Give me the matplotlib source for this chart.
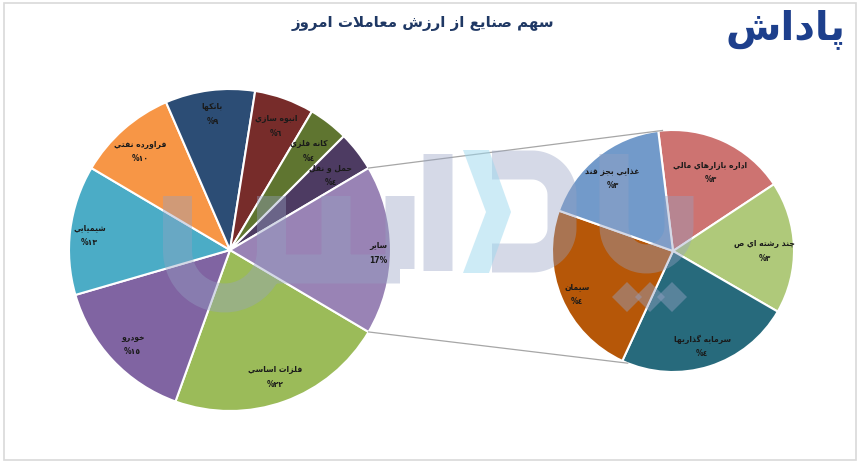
import numpy as np
import matplotlib
matplotlib.use('Agg')
import matplotlib.pyplot as plt
from matplotlib.patches import Rectangle, Polygon, PathPatch
from matplotlib.path import Path

plt.rcParams['font.family'] = ['DejaVu Sans']

# main pie (clockwise, starting at lower edge of "سایر")
main_names = ['فلزات اساسي', 'خودرو', 'شيميايي', 'فراورده نفتي', 'بانکها',
              'انبوه سازي', 'کانه فلزي', 'حمل و نقل', 'ساير']
main_values = [22, 15, 13, 10, 9, 6, 4, 4, 17]
main_colors = ['#9BBB59', '#8064A2', '#4BACC6', '#F79646', '#2C4D75',
               '#772C2A', '#5F7530', '#4D3B62', '#9983B5']

# breakdown of "سایر"
sub_names = ['اداره بازارهاي مالي', 'چند رشته اي ص', 'سرمايه گذاريها', 'سيمان', 'غذايي بجز قند']
sub_values = [3, 3, 4, 4, 3]
sub_colors = ['#CD7371', '#AFC97A', '#276A7C', '#B65708', '#729ACA']

title = 'سهم صنايع از ارزش معاملات امروز'
logo = 'پاداش'

# ---- minimal arabic shaping (matplotlib has no bidi / joining) ----
TWO = {'ا': 0xFE8D, 'آ': 0xFE81, 'أ': 0xFE83, 'إ': 0xFE87, 'ؤ': 0xFE85, 'د': 0xFEA9,
       'ذ': 0xFEAB, 'ر': 0xFEAD, 'ز': 0xFEAF, 'و': 0xFEED, 'ة': 0xFE93, 'ژ': 0xFB8A,
       'ى': 0xFEEF}
FOUR = {'ئ': 0xFE89, 'ب': 0xFE8F, 'ت': 0xFE95, 'ث': 0xFE99, 'ج': 0xFE9D, 'ح': 0xFEA1,
        'خ': 0xFEA5, 'س': 0xFEB1, 'ش': 0xFEB5, 'ص': 0xFEB9, 'ض': 0xFEBD, 'ط': 0xFEC1,
        'ظ': 0xFEC5, 'ع': 0xFEC9, 'غ': 0xFECD, 'ف': 0xFED1, 'ق': 0xFED5, 'ك': 0xFED9,
        'ل': 0xFEDD, 'م': 0xFEE1, 'ن': 0xFEE5, 'ه': 0xFEE9, 'ي': 0xFEF1, 'پ': 0xFB56,
        'چ': 0xFB7A, 'ک': 0xFB8E, 'گ': 0xFB92, 'ی': 0xFBFC}
LAMALEF = {'ا': 0xFEFB, 'آ': 0xFEF5, 'أ': 0xFEF7, 'إ': 0xFEF9}


def shape(s):
    chars = []
    i = 0
    while i < len(s):
        if s[i] == 'ل' and i + 1 < len(s) and s[i + 1] in LAMALEF:
            chars.append(('LA', s[i + 1]))
            i += 2
        else:
            chars.append((s[i], None))
            i += 1

    def joins(c):
        return c[0] in TWO or c[0] in FOUR or c[0] == 'LA'

    def dual(c):
        return c[0] in FOUR

    out = []
    for k, c in enumerate(chars):
        prev = chars[k - 1] if k > 0 else None
        nxt = chars[k + 1] if k + 1 < len(chars) else None
        jp = prev is not None and dual(prev) and joins(c)
        jn = nxt is not None and dual(c) and joins(nxt)
        if c[0] == 'LA':
            out.append(chr(LAMALEF[c[1]] + (1 if jp else 0)))
        elif c[0] in FOUR:
            base = FOUR[c[0]]
            off = 3 if (jp and jn) else 1 if jp else 2 if jn else 0
            out.append(chr(base + off))
        elif c[0] in TWO:
            out.append(chr(TWO[c[0]] + (1 if jp else 0)))
        else:
            out.append(c[0])
    return ''.join(out[::-1])


def fa_pct(v):
    return '%' + ''.join(chr(0x0660 + int(d)) for d in str(v))


H = 465
fig = plt.figure(figsize=(8.61, 4.65), dpi=100)
ax = fig.add_axes([0, 0, 1, 1])

ax.add_patch(Rectangle((4, 5), 852, 457, fill=False, edgecolor='#D9D9D9', lw=1.2))

c1, r1 = (230, 215), 161
c2, r2 = (673, 214), 121
start1 = -main_values[-1] / sum(main_values) * 360 / 2
start2 = 97

w1, _ = ax.pie(main_values, colors=main_colors, startangle=start1, counterclock=False,
               center=c1, radius=r1, frame=True,
               wedgeprops=dict(edgecolor='white', linewidth=1.5))
w2, _ = ax.pie(sub_values, colors=sub_colors, startangle=start2, counterclock=False,
               center=c2, radius=r2, frame=True,
               wedgeprops=dict(edgecolor='white', linewidth=1.5))
ax.set_xlim(0, 861)
ax.set_ylim(0, H)
ax.axis('off')
ax.set_aspect('equal')

lab_kw = dict(ha='center', va='center', fontsize=5.5, fontweight='bold',
              color='#1A1A1A', linespacing=1.8, zorder=6)
dist1 = [0.82, 0.83, 0.88, 0.84, 0.87, 0.84, 0.80, 0.79, 0.92]
for w, name, v, d in zip(w1, main_names, main_values, dist1):
    a = np.deg2rad((w.theta1 + w.theta2) / 2)
    pct = '17%' if name == main_names[-1] else fa_pct(v)
    ax.text(c1[0] + d * r1 * np.cos(a), c1[1] + d * r1 * np.sin(a) - 3,
            shape(name) + '\n' + pct, **lab_kw)

dist2 = [0.74, 0.76, 0.80, 0.86, 0.80]
for w, name, v, d in zip(w2, sub_names, sub_values, dist2):
    a = np.deg2rad((w.theta1 + w.theta2) / 2)
    ax.text(c2[0] + d * r2 * np.cos(a), c2[1] + d * r2 * np.sin(a) - 3,
            shape(name) + '\n' + fa_pct(v), **lab_kw)

# connector lines between "سایر" edges and the second pie
ta = np.deg2rad(w1[-1].theta2)
ba = np.deg2rad(w1[-1].theta1)
ax.plot([c1[0] + r1 * np.cos(ta), c2[0] + r2 * np.cos(np.deg2rad(95))],
        [c1[1] + r1 * np.sin(ta), c2[1] + r2 * np.sin(np.deg2rad(95))],
        color='#A6A6A6', lw=0.9, zorder=1)
ax.plot([c1[0] + r1 * np.cos(ba), c2[0] + r2 * np.cos(np.deg2rad(-112))],
        [c1[1] + r1 * np.sin(ba), c2[1] + r2 * np.sin(np.deg2rad(-112))],
        color='#A6A6A6', lw=0.9, zorder=1)

ax.text(423, H - 23, shape(title), ha='center', va='center', fontsize=10.8,
        fontweight='bold', color='#1F3864')
ax.text(786, H - 29, shape(logo), ha='center', va='center', fontsize=29,
        fontweight='bold', color='#1D3F8C')


# faded logo watermark, drawn as one thick stroke (pixel coords, top-left origin)
def arc(cx, cy, r, a0, a1, n=24):
    t = np.deg2rad(np.linspace(a0, a1, n))
    return [(cx + r * np.cos(s), H - (cy - r * np.sin(s))) for s in t]


verts, codes = [], []


def stroke(pts):
    verts.extend(pts)
    codes.extend([Path.MOVETO] + [Path.LINETO] * (len(pts) - 1))


# "ش": big bowl plus two small teeth on a baseline
stroke([(177.5, H - 196)] + arc(224.5, 251, 47, 180, 360) + [(271.5, H - 196)])
stroke([(271.5, H - 269), (400, H - 269)])
stroke([(336, H - 196), (336, H - 269)])
stroke([(400, H - 196), (400, H - 269)])
# "ا"
stroke([(438, H - 154), (438, H - 271)])
# "د" loop
stroke([(492, H - 165), (532, H - 165)] + arc(532, 195, 30, 90, 0)
       + arc(532, 228, 30, 0, -90) + [(492, H - 258)])
# "پ"
stroke([(614, H - 154)] + arc(646.5, 226.5, 32.5, 180, 360) + [(679, H - 196)])

ax.add_patch(PathPatch(Path(verts, codes), fill=False, edgecolor='#96A2C3',
                       lw=29 * 0.72, alpha=0.4, capstyle='butt', joinstyle='round',
                       zorder=3))
ax.add_patch(Polygon([(463, H - 150), (489, H - 150), (511, H - 212), (489, H - 273),
                      (463, H - 273), (486, H - 212)], closed=True,
                     facecolor='#9DD8EE', edgecolor='none', alpha=0.5, zorder=3))
for x in (627, 650, 672):
    ax.add_patch(Polygon([(x - 15, H - 297), (x, H - 282), (x + 15, H - 297), (x, H - 312)],
                         closed=True, facecolor='#96A2C3', edgecolor='none',
                         alpha=0.45, zorder=3))

fig.savefig('out.png', dpi=100)
